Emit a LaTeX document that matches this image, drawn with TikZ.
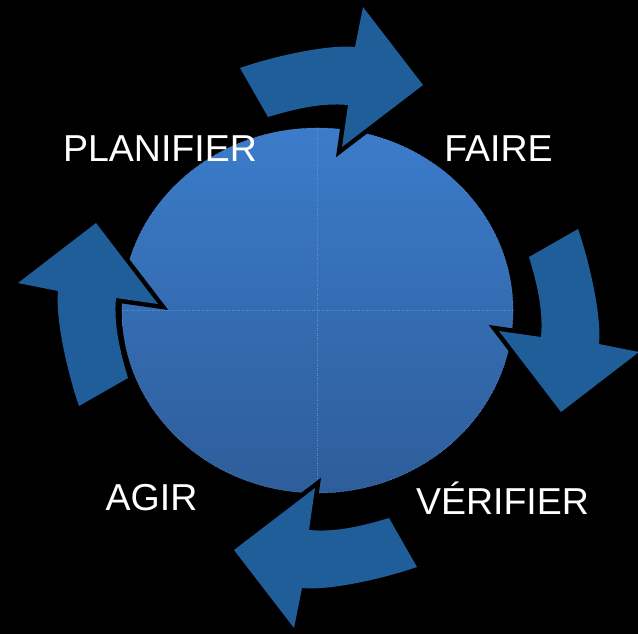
\documentclass[tikz,border=0pt]{standalone}
\usepackage{fontspec}
\setmainfont{Liberation Sans}
\usetikzlibrary{shapes.geometric}
\definecolor{disctop}{HTML}{3B7CCA}
\definecolor{discbottom}{HTML}{2E5D9A}
\definecolor{discedge}{HTML}{5F93D4}
\definecolor{arrowblue}{HTML}{1F5E98}

\begin{document}
\begin{tikzpicture}[x=1pt,y=-1pt,
	disc/.style={ellipse,minimum width=391pt,minimum height=365pt,inner sep=0pt,
		top color=disctop,bottom color=discbottom,draw=discedge,densely dotted,line width=0.6pt},
	quarter/.style={draw=discedge,dotted,line width=0.5pt},
	cyclearrow/.style={preaction={draw=black,line width=9pt},fill=arrowblue},
	steptext/.style={text=white,anchor=base,inner sep=0pt,font=\fontsize{37.5}{45}\selectfont}]
\useasboundingbox (0,0) rectangle (638,633);
\fill[black] (-12,-12) rectangle (650,645);
\node[disc] (wheel) at (317.5,310.5) {};
\draw[quarter] (wheel.west) -- (wheel.east);
\draw[quarter] (wheel.north) -- (wheel.south);
\coordinate (hub) at (328.5,317.5);
\foreach \r in {0,-90,-180,-270}{
	\begin{scope}[shift={(hub)},rotate=\r]
	\path[cyclearrow] (-88.5,-249.5) .. controls (-60.2,-259.5) and (-3.4,-273.4) .. (26.5,-270.5)
		-- (34.5,-310.5) -- (94.5,-232.5) -- (13.5,-170.5) -- (19.5,-212.5)
		.. controls (-7.4,-215) and (-34.7,-208.3) .. (-60.5,-200.5) -- cycle;
	\end{scope}
}
\node[steptext] (plan) at (160,161) {PLANIFIER};
\node[steptext] (do) at (498.5,161) {FAIRE};
\node[steptext] (check) at (502.5,514) {VÉRIFIER};
\node[steptext] (act) at (151.5,510) {AGIR};
\end{tikzpicture}
\end{document}
